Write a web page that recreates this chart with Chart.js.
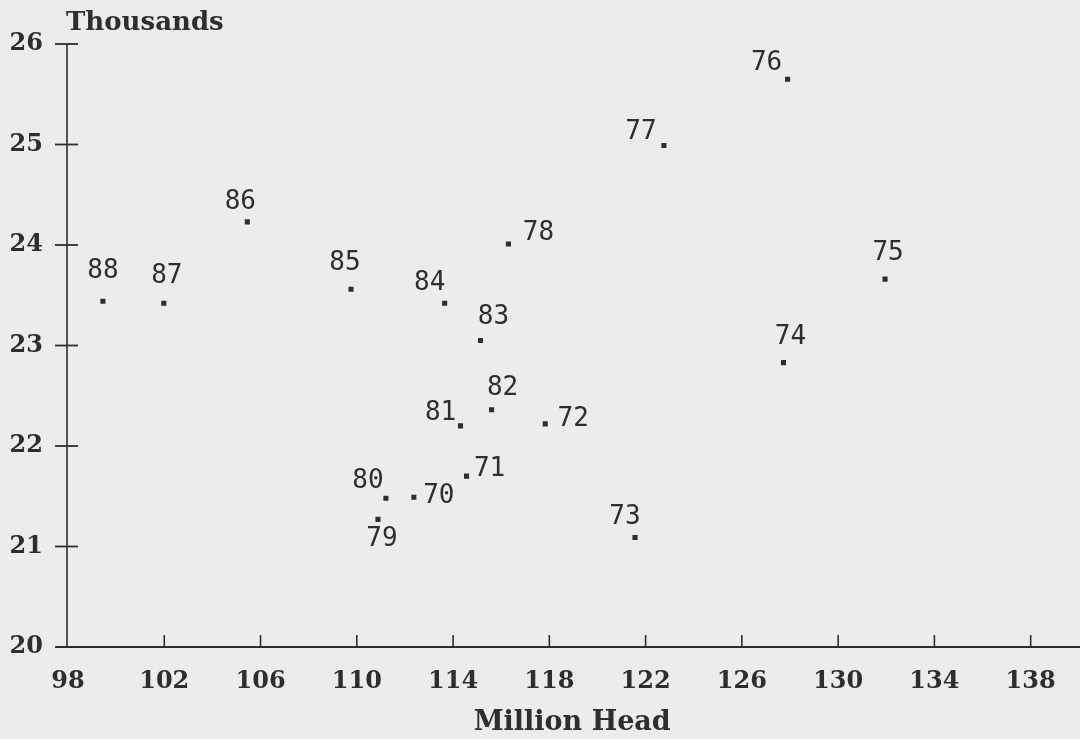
<!DOCTYPE html>
<html>
<head>
<meta charset="utf-8">
<title>Million Head vs Thousands</title>
<script src="https://cdn.jsdelivr.net/npm/chart.js@4.4.1/dist/chart.umd.min.js"></script>
<style>
    html, body { margin: 0; padding: 0; background: #ececec; }
    #wrap { width: 1080px; height: 739px; }
</style>
</head>
<body>
<div id="wrap"><canvas id="scatterChart" width="1080" height="739"></canvas></div>
<script>
// Year labels (19xx) for each point
const years = ['70', '71', '72', '73', '74', '75', '76', '77', '78', '79',
               '80', '81', '82', '83', '84', '85', '86', '87', '88'];

// Million head (x) and thousands (y)
const millionHead = [112.37, 114.56, 117.83, 121.56, 127.73, 131.95, 127.90, 122.76, 116.30, 110.88,
                     111.21, 114.31, 115.60, 115.14, 113.65, 109.76, 105.45, 101.98, 99.45];
const thousands = [21.49, 21.70, 22.22, 21.09, 22.83, 23.66, 25.65, 24.99, 24.01, 21.27,
                   21.48, 22.20, 22.36, 23.05, 23.42, 23.56, 24.23, 23.42, 23.44];

// Tick labels
const xTicks = [98, 102, 106, 110, 114, 118, 122, 126, 130, 134, 138];
const yTicks = [20, 21, 22, 23, 24, 25, 26];

// Where each year label sits relative to its dot (px)
const labelOffsets = [
    [25, -1], [23, -7], [28, -5], [-10, -20], [7, -25], [3, -26], [-21, -16], [-23, -13], [30, -11], [4, 20],
    [-18, -17], [-20, -13], [11, -22], [13, -23], [-15, -20], [-6, -26], [-7, -20], [3, -27], [0, -30]
];

const ink = '#2e2e2e';
const serifBold = { family: '"DejaVu Serif", serif', size: 24, weight: 'bold', lineHeight: 1.2 };

// Axes, tick marks, top title and the year labels
const decorations = {
    id: 'decorations',
    beforeDraw(chart) {
        const ctx = chart.ctx;
        ctx.save();
        ctx.fillStyle = '#ececec';
        ctx.fillRect(0, 0, chart.width, chart.height);
        ctx.restore();
    },
    afterDraw(chart) {
        const ctx = chart.ctx;
        const xs = chart.scales.x;
        const ys = chart.scales.y;
        const x0 = xs.getPixelForValue(98);
        const yBottom = ys.getPixelForValue(20);
        const yTop = ys.getPixelForValue(26);

        ctx.save();
        ctx.strokeStyle = ink;

        // y axis
        ctx.lineWidth = 1.6;
        ctx.beginPath();
        ctx.moveTo(x0 - 1, yTop);
        ctx.lineTo(x0 - 1, yBottom);
        ctx.stroke();

        // x axis
        ctx.lineWidth = 2.2;
        ctx.beginPath();
        ctx.moveTo(x0 - 12, yBottom);
        ctx.lineTo(chart.width, yBottom);
        ctx.stroke();

        // y tick marks cross the axis
        ctx.lineWidth = 1.8;
        yTicks.forEach(function(v) {
            const py = ys.getPixelForValue(v);
            ctx.beginPath();
            ctx.moveTo(x0 - 13, py);
            ctx.lineTo(x0 + 10, py);
            ctx.stroke();
        });

        // x tick marks point up
        ctx.lineWidth = 1.6;
        xTicks.forEach(function(v) {
            if (v === 98) return;
            const px = xs.getPixelForValue(v);
            ctx.beginPath();
            ctx.moveTo(px, yBottom);
            ctx.lineTo(px, yBottom - 12);
            ctx.stroke();
        });

        // title over the y axis
        ctx.fillStyle = ink;
        ctx.font = 'bold 26px "DejaVu Serif", serif';
        ctx.textAlign = 'left';
        ctx.textBaseline = 'alphabetic';
        ctx.fillText('Thousands', 66, 30);

        // year labels next to each dot
        ctx.font = '26px "DejaVu Sans Mono", monospace';
        ctx.textAlign = 'center';
        ctx.textBaseline = 'middle';
        const meta = chart.getDatasetMeta(0);
        meta.data.forEach(function(pt, i) {
            const off = labelOffsets[i];
            ctx.fillText(years[i], pt.x + off[0], pt.y + off[1]);
        });
        ctx.restore();
    }
};

const chart = new Chart(document.getElementById('scatterChart'), {
    type: 'scatter',
    data: {
        datasets: [{
            label: 'Million Head vs Thousands',
            data: millionHead.map(function(x, i) { return { x: x, y: thousands[i] }; }),
            pointStyle: 'rect',
            pointRadius: 3.6,
            pointHoverRadius: 3.6,
            backgroundColor: ink,
            borderColor: ink,
            borderWidth: 0
        }]
    },
    options: {
        responsive: false,
        devicePixelRatio: 1,
        animation: false,
        events: [],
        layout: {
            padding: { top: 44, right: 0, bottom: 0, left: 0 }
        },
        plugins: {
            legend: { display: false },
            tooltip: { enabled: false }
        },
        scales: {
            x: {
                type: 'linear',
                min: 98,
                max: 139.9,
                afterFit: function(scale) { scale.height = 92; },
                afterBuildTicks: function(scale) {
                    scale.ticks = xTicks.map(function(v) { return { value: v }; });
                },
                grid: { display: false, drawTicks: false },
                border: { display: false },
                ticks: {
                    color: ink,
                    font: serifBold,
                    padding: 20,
                    maxRotation: 0,
                    autoSkip: false
                },
                title: {
                    display: true,
                    text: 'Million Head',
                    color: ink,
                    font: { family: '"DejaVu Serif", serif', size: 27, weight: 'bold', lineHeight: 1.2 },
                    padding: { top: 0, bottom: 0 }
                }
            },
            y: {
                type: 'linear',
                min: 20,
                max: 26,
                afterFit: function(scale) { scale.width = 68; },
                afterBuildTicks: function(scale) {
                    scale.ticks = yTicks.map(function(v) { return { value: v }; });
                },
                grid: { display: false, drawTicks: false },
                border: { display: false },
                ticks: {
                    color: ink,
                    font: serifBold,
                    padding: 25
                }
            }
        }
    },
    plugins: [decorations]
});
</script>
</body>
</html>
